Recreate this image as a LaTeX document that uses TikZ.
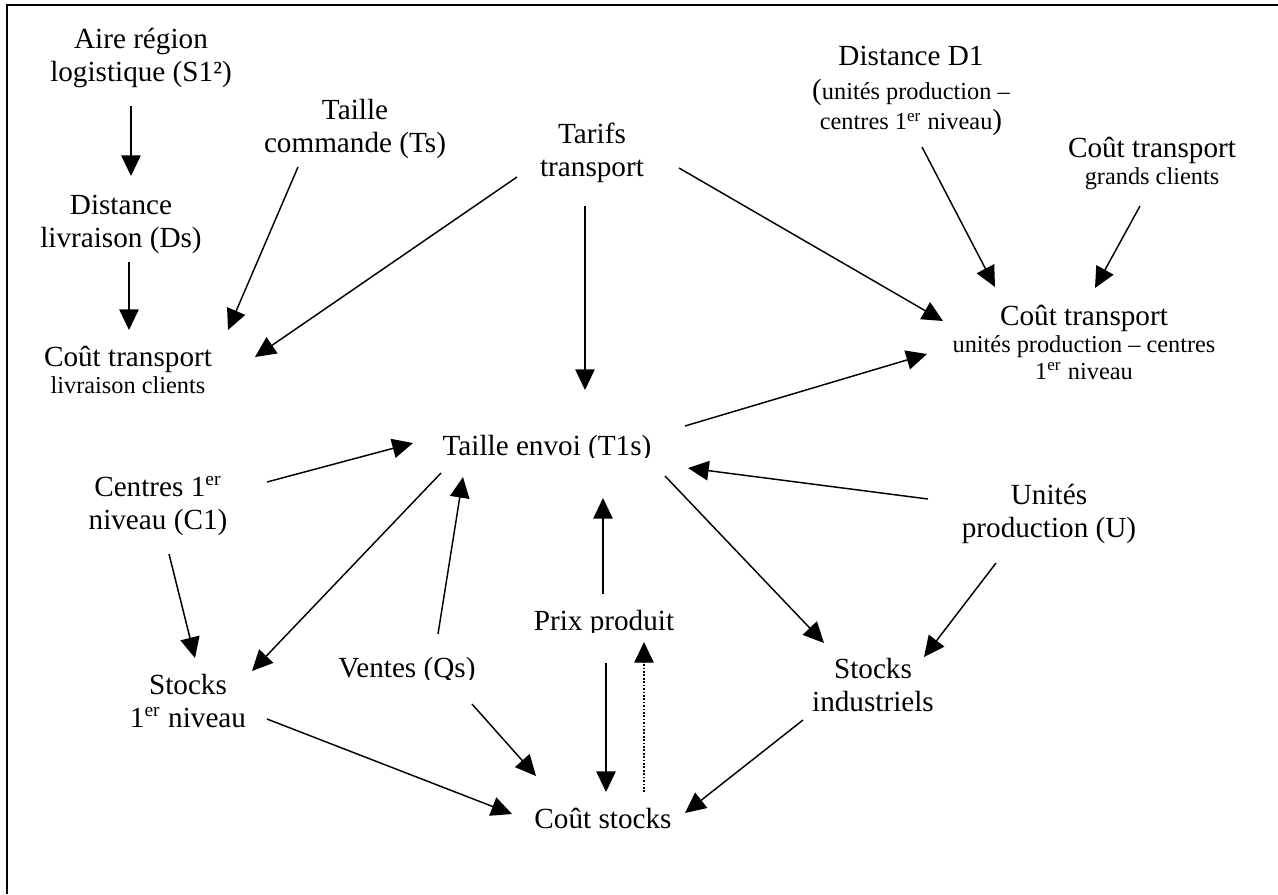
\documentclass[tikz,border=0pt]{standalone}
\usepackage{fontspec}
\setmainfont{Liberation Serif}
\usetikzlibrary{arrows.meta}
\newcommand{\mlines}[1]{\begin{tabular}[t]{@{}c@{}}#1\end{tabular}}
\newcommand{\smallf}{\fontsize{10}{11.5}\selectfont}
\newcommand{\bigf}{\fontsize{12}{13.6}\selectfont}
\begin{document}
\begin{tikzpicture}[x=0.411pt,y=-0.411pt,
  every node/.style={inner sep=0pt,font=\bigf,anchor=base},
  arr/.style={line width=0.6pt,-{Triangle[length=8.5pt,width=8pt]}},
  dotarr/.style={line width=0.5pt,dash pattern=on 0.7pt off 0.7pt,-{Triangle[length=8.5pt,width=8pt]}},
  frame/.style={line width=1pt}]
\useasboundingbox (0,0) rectangle (1278,894);
\draw[frame] (7,894) -- (7,5) -- (1278,5);

% nodes
\node (aire) at (141,48) {\mlines{Aire région\\logistique (S1²)}};
\node (taillecmd) at (355,119) {\mlines{Taille\\commande (Ts)}};
\node (tarifs) at (592,143) {\mlines{Tarifs\\transport}};
\node (distd1) at (911,65) {\mlines{Distance D1\\[0.4pt]({\smallf unités production –}\\[-0.9pt]{\smallf centres 1\textsuperscript{er} niveau})}};
\node (coutgc) at (1152,157) {\mlines{Coût transport\\[-2.5pt]\smallf grands clients}};
\node (distliv) at (121,214) {\mlines{Distance\\livraison (Ds)}};
\node (coutliv) at (128,366) {\mlines{Coût transport\\[-2.1pt]\smallf livraison clients}};
\node (coutup) at (1084,325) {\mlines{Coût transport\\[-2.5pt]\smallf unités production – centres\\[-2.5pt]\smallf 1\textsuperscript{er} niveau}};
\begin{scope}
  \clip (380,400) rectangle (720,457);
  \node (taille) at (547,455) {Taille envoi (T1s)};
\end{scope}
\node (centres) at (158,496) {\mlines{Centres 1\textsuperscript{er}\\niveau (C1)}};
\node (unites) at (1049,504) {\mlines{Unités\\production (U)}};
\begin{scope}
  \clip (500,590) rectangle (720,632);
  \node (prix) at (604,630) {Prix produit};
\end{scope}
\begin{scope}
  \clip (300,640) rectangle (500,679);
  \node (ventes) at (407,677) {Ventes (Qs)};
\end{scope}
\node (stocks1) at (188,694) {\mlines{Stocks\\1\textsuperscript{er} niveau}};
\node (stocksind) at (873,678) {\mlines{Stocks\\industriels}};
\node (coutstocks) at (603,828) {Coût stocks};

% connectors
\draw[arr] ([shift={(-10,58)}]aire.base) -- ([shift={(10,-38)}]distliv.base);
\draw[arr] ([shift={(8,48)}]distliv.base) -- ([shift={(1,-36)}]coutliv.base);
\draw[arr] ([shift={(-57,48)}]taillecmd.base) -- ([shift={(100,-36)}]coutliv.base);
\draw[arr] ([shift={(-75,34)}]tarifs.base) -- ([shift={(127,-9)}]coutliv.base);
\draw[arr] ([shift={(-7,63)}]tarifs.base) -- ([shift={(38,-65)}]taille.base);
\draw[arr] ([shift={(87,25)}]tarifs.base) -- ([shift={(-141,-4)}]coutup.base);
\draw[arr] ([shift={(11,82)}]distd1.base) -- ([shift={(-89,-38)}]coutup.base);
\draw[arr] ([shift={(-12,49)}]coutgc.base) -- ([shift={(11,-37)}]coutup.base);
\draw[arr] ([shift={(138,-29)}]taille.base) -- ([shift={(-157,29)}]coutup.base);
\draw[arr] ([shift={(109,-14)}]centres.base) -- ([shift={(-134,-12)}]taille.base);
\draw[arr] ([shift={(-106,18)}]taille.base) -- ([shift={(64,-23)}]stocks1.base);
\draw[arr] ([shift={(31,-43)}]ventes.base) -- ([shift={(-84,22)}]taille.base);
\draw[arr] ([shift={(-1,-36)}]prix.base) -- ([shift={(56,43)}]taille.base);
\draw[arr] ([shift={(-121,-5)}]unites.base) -- ([shift={(141,13)}]taille.base);
\draw[arr] ([shift={(118,21)}]taille.base) -- ([shift={(-49,-35)}]stocksind.base);
\draw[arr] ([shift={(-53,59)}]unites.base) -- ([shift={(51,-21)}]stocksind.base);
\draw[arr] ([shift={(11,58)}]centres.base) -- ([shift={(7,-36)}]stocks1.base);
\draw[arr] ([shift={(79,25)}]stocks1.base) -- ([shift={(-91,-14)}]coutstocks.base);
\draw[arr] ([shift={(65,27)}]ventes.base) -- ([shift={(-67,-52)}]coutstocks.base);
\draw[arr] ([shift={(2,33)}]prix.base) -- ([shift={(3,-36)}]coutstocks.base);
\draw[dotarr] ([shift={(41,-36)}]coutstocks.base) -- ([shift={(40,12)}]prix.base);
\draw[arr] ([shift={(-70,42)}]stocksind.base) -- ([shift={(82,-15)}]coutstocks.base);
\end{tikzpicture}
\end{document}
